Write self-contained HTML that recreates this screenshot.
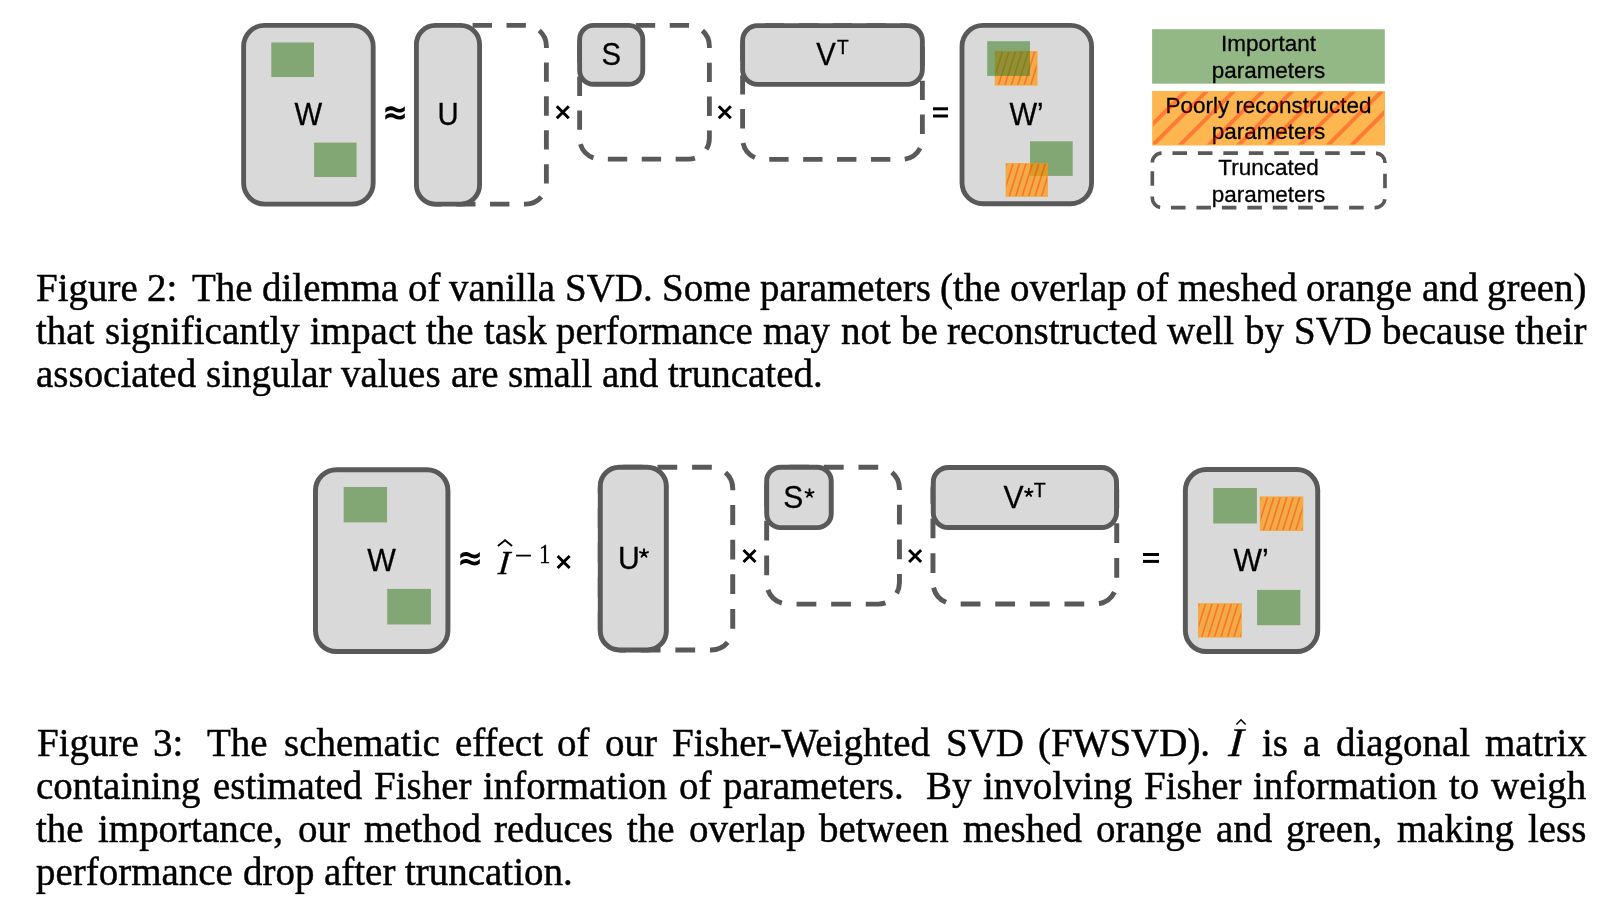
<!DOCTYPE html>
<html><head><meta charset="utf-8"><style>
html,body{margin:0;padding:0;background:#fff;}
body{width:1612px;height:912px;position:relative;overflow:hidden;}
svg{position:absolute;left:0;top:0;will-change:transform;}
.w{will-change:transform;transform:scaleY(1.04);transform-origin:0 13.15px;-webkit-text-stroke:0.45px #000;position:absolute;font-family:"Liberation Serif",serif;font-size:38.97px;line-height:0;white-space:pre;color:#000;height:0;}
.w i{font-style:italic;}
.hat{position:absolute;left:4px;top:-24.5px;}
</style></head><body>
<svg width="1612" height="912" viewBox="0 0 1612 912">
<defs><clipPath id="c1"><rect x="995.5999999999999" y="51.8" width="41.10" height="33.00"/></clipPath><clipPath id="c2"><rect x="1006.4" y="163.8" width="40.80" height="32.30"/></clipPath><clipPath id="c3"><rect x="1153.1" y="92.0" width="230.9" height="52.5"/></clipPath><clipPath id="c4"><rect x="1260.6" y="497.2" width="41.90" height="33.00"/></clipPath><clipPath id="c5"><rect x="1198.8" y="603.9" width="42.30" height="32.90"/></clipPath></defs>
<path d="M243.62,46.42 A21,21 0 0 1 264.62,25.42 L352.18,25.42 A21,21 0 0 1 373.18,46.42 L373.18,183.08 A21,21 0 0 1 352.18,204.08 L264.62,204.08 A21,21 0 0 1 243.62,183.08 Z" fill="#d9d9d9" stroke="#595959" stroke-width="4.84"/>
<rect x="271.3" y="42.5" width="42.70" height="34.50" fill="rgba(61,124,35,0.55)"/>
<rect x="314.1" y="142.6" width="42.50" height="34.40" fill="rgba(61,124,35,0.55)"/>
<text transform="translate(308.4,124.9) scale(0.959,1)" x="0" y="0" font-family="Liberation Sans" font-size="30.56" text-anchor="middle" stroke="#000" stroke-width="0.3" >W</text>
<g transform="translate(0,0)"><path d="M385.3,108.7 C386.8,107.0 388.8,106.3 390.8,106.3 C394.5,106.3 396,109.0 399.3,109.0 C401.5,109.0 403.5,107.6 404.8,106.2 L404.8,110.7 C403.3,111.9 401.5,112.6 399.5,112.6 C395.8,112.6 394,110.3 390.6,110.3 C388.6,110.3 386.8,111.4 385.3,112.8 Z" fill="#000"/><path d="M385.3,108.7 C386.8,107.0 388.8,106.3 390.8,106.3 C394.5,106.3 396,109.0 399.3,109.0 C401.5,109.0 403.5,107.6 404.8,106.2 L404.8,110.7 C403.3,111.9 401.5,112.6 399.5,112.6 C395.8,112.6 394,110.3 390.6,110.3 C388.6,110.3 386.8,111.4 385.3,112.8 Z" fill="#000" transform="translate(0,7.0)"/></g>
<path d="M416.42,46.12 A20.7,20.7 0 0 1 437.12,25.42 L525.68,25.42 A20.7,20.7 0 0 1 546.38,46.12 L546.38,183.38 A20.7,20.7 0 0 1 525.68,204.08 L437.12,204.08 A20.7,20.7 0 0 1 416.42,183.38 Z" fill="none" stroke="#595959" stroke-width="4.84" stroke-dasharray="19.37 14.53"/>
<path d="M416.42,44.42 A19,19 0 0 1 435.42,25.42 L460.58,25.42 A19,19 0 0 1 479.58,44.42 L479.58,185.08 A19,19 0 0 1 460.58,204.08 L435.42,204.08 A19,19 0 0 1 416.42,185.08 Z" fill="#d9d9d9" stroke="#595959" stroke-width="4.84"/>
<text transform="translate(448,124.6) scale(0.959,1)" x="0" y="0" font-family="Liberation Sans" font-size="30.56" text-anchor="middle" stroke="#000" stroke-width="0.3" >U</text>
<path d="M556.80,106.20L568.80,118.20M568.80,106.20L556.80,118.20" stroke="#000" stroke-width="3.0" fill="none"/>
<path d="M579.62,46.12 A20.7,20.7 0 0 1 600.32,25.42 L688.68,25.42 A20.7,20.7 0 0 1 709.38,46.12 L709.38,138.38 A20.7,20.7 0 0 1 688.68,159.08 L600.32,159.08 A20.7,20.7 0 0 1 579.62,138.38 Z" fill="none" stroke="#595959" stroke-width="4.84" stroke-dasharray="19.37 14.53"/>
<path d="M579.62,39.42 A14,14 0 0 1 593.62,25.42 L628.78,25.42 A14,14 0 0 1 642.78,39.42 L642.78,70.28 A14,14 0 0 1 628.78,84.28 L593.62,84.28 A14,14 0 0 1 579.62,70.28 Z" fill="#d9d9d9" stroke="#595959" stroke-width="4.84"/>
<text transform="translate(611.2,64.9) scale(0.959,1)" x="0" y="0" font-family="Liberation Sans" font-size="30.56" text-anchor="middle" stroke="#000" stroke-width="0.3" >S</text>
<path d="M718.80,106.30L730.80,118.30M730.80,106.30L718.80,118.30" stroke="#000" stroke-width="3.0" fill="none"/>
<path d="M742.62,46.32 A20.7,20.7 0 0 1 763.32,25.62 L901.68,25.62 A20.7,20.7 0 0 1 922.38,46.32 L922.38,138.68 A20.7,20.7 0 0 1 901.68,159.38 L763.32,159.38 A20.7,20.7 0 0 1 742.62,138.68 Z" fill="none" stroke="#595959" stroke-width="4.84" stroke-dasharray="19.37 14.53"/>
<path d="M742.62,40.62 A15,15 0 0 1 757.62,25.62 L907.38,25.62 A15,15 0 0 1 922.38,40.62 L922.38,69.38 A15,15 0 0 1 907.38,84.38 L757.62,84.38 A15,15 0 0 1 742.62,69.38 Z" fill="#d9d9d9" stroke="#595959" stroke-width="4.84"/>
<text transform="translate(816.3,65.3) scale(0.959,1)" x="0" y="0" font-family="Liberation Sans" font-size="30.56" text-anchor="start" stroke="#000" stroke-width="0.3" >V</text>
<text transform="translate(837.0,54.0) scale(0.959,1)" x="0" y="0" font-family="Liberation Sans" font-size="20.03" text-anchor="start" stroke="#000" stroke-width="0.3" >T</text>
<rect x="933" y="107.30" width="15" height="3.0" fill="#000"/>
<rect x="933" y="114.50" width="15" height="3.0" fill="#000"/>
<path d="M962.02,46.42 A21,21 0 0 1 983.02,25.42 L1070.58,25.42 A21,21 0 0 1 1091.58,46.42 L1091.58,182.78 A21,21 0 0 1 1070.58,203.78 L983.02,203.78 A21,21 0 0 1 962.02,182.78 Z" fill="#d9d9d9" stroke="#595959" stroke-width="4.84"/>
<rect x="994.8" y="51.0" width="42.70" height="34.60" fill="#fd9805" fill-opacity="0.7"/>
<g opacity="0.32"><path clip-path="url(#c1)" d="M985.40,85.60L996.21,51.00M991.85,85.60L1002.66,51.00M998.30,85.60L1009.11,51.00M1004.75,85.60L1015.56,51.00M1011.20,85.60L1022.01,51.00M1017.65,85.60L1028.46,51.00M1024.10,85.60L1034.91,51.00M1030.55,85.60L1041.36,51.00M1037.00,85.60L1047.81,51.00" stroke="#ff0000" stroke-width="1.6" fill="none"/></g>
<rect x="987.2" y="41.2" width="42.80" height="34.70" fill="rgba(61,124,35,0.55)"/>
<rect x="1030.0" y="141.3" width="42.70" height="34.60" fill="rgba(61,124,35,0.55)"/>
<rect x="1005.6" y="163.0" width="42.40" height="33.90" fill="#fd9805" fill-opacity="0.7"/>
<g opacity="0.32"><path clip-path="url(#c2)" d="M996.20,196.90L1006.79,163.00M1002.65,196.90L1013.24,163.00M1009.10,196.90L1019.69,163.00M1015.55,196.90L1026.14,163.00M1022.00,196.90L1032.59,163.00M1028.45,196.90L1039.04,163.00M1034.90,196.90L1045.49,163.00M1041.35,196.90L1051.94,163.00M1047.80,196.90L1058.39,163.00" stroke="#ff0000" stroke-width="1.6" fill="none"/></g>
<text transform="translate(1009.4,124.8) scale(0.959,1)" x="0" y="0" font-family="Liberation Sans" font-size="30.56" text-anchor="start" stroke="#000" stroke-width="0.3" >W’</text>
<rect x="1152.1" y="29.2" width="232.70" height="54.50" fill="rgba(61,124,35,0.55)"/>
<text transform="translate(1268.5,51.0) scale(0.985,1)" x="0" y="0" font-family="Liberation Sans" font-size="22.84" text-anchor="middle" stroke="#000" stroke-width="0.3" >Important</text>
<text transform="translate(1268.5,77.9) scale(0.985,1)" x="0" y="0" font-family="Liberation Sans" font-size="22.84" text-anchor="middle" stroke="#000" stroke-width="0.3" >parameters</text>
<rect x="1152.1" y="91.0" width="232.90" height="54.50" fill="#feb750"/>
<text transform="translate(1268.5,112.6) scale(0.985,1)" x="0" y="0" font-family="Liberation Sans" font-size="22.84" text-anchor="middle" stroke="#000" stroke-width="0.3" >Poorly reconstructed</text>
<text transform="translate(1268.5,139.3) scale(0.985,1)" x="0" y="0" font-family="Liberation Sans" font-size="22.84" text-anchor="middle" stroke="#000" stroke-width="0.3" >parameters</text>
<g opacity="0.32"><path clip-path="url(#c3)" d="M1126.8,150L1191.8,85M1147.9,150L1212.9,85M1175.0,150L1240.0,85M1204.0,150L1269.0,85M1233.5,150L1298.5,85M1263.2,150L1328.2,85M1294.9,150L1359.9,85M1323.1,150L1388.1,85M1346.8,150L1411.8,85" stroke="#ff0000" stroke-width="4.0" fill="none"/></g>
<path d="M1152.32,162.62 A9.5,9.5 0 0 1 1161.82,153.12 L1375.48,153.12 A9.5,9.5 0 0 1 1384.98,162.62 L1384.98,198.08 A9.5,9.5 0 0 1 1375.48,207.58 L1161.82,207.58 A9.5,9.5 0 0 1 1152.32,198.08 Z" fill="none" stroke="#595959" stroke-width="3.64" stroke-dasharray="14.55 10.9"/>
<text transform="translate(1268.5,174.7) scale(0.985,1)" x="0" y="0" font-family="Liberation Sans" font-size="22.84" text-anchor="middle" stroke="#000" stroke-width="0.3" >Truncated</text>
<text transform="translate(1268.5,201.75) scale(0.985,1)" x="0" y="0" font-family="Liberation Sans" font-size="22.84" text-anchor="middle" stroke="#000" stroke-width="0.3" >parameters</text>
<path d="M315.47,490.67 A21,21 0 0 1 336.47,469.67 L426.93,469.67 A21,21 0 0 1 447.93,490.67 L447.93,630.53 A21,21 0 0 1 426.93,651.53 L336.47,651.53 A21,21 0 0 1 315.47,630.53 Z" fill="#d9d9d9" stroke="#595959" stroke-width="4.94"/>
<rect x="343.7" y="487.0" width="43.40" height="35.40" fill="rgba(61,124,35,0.55)"/>
<rect x="387.2" y="588.9" width="43.70" height="35.60" fill="rgba(61,124,35,0.55)"/>
<text transform="translate(381.5,570.9) scale(0.959,1)" x="0" y="0" font-family="Liberation Sans" font-size="31.60" text-anchor="middle" stroke="#000" stroke-width="0.3" >W</text>
<g transform="translate(75.0,445.8)"><path d="M385.3,108.7 C386.8,107.0 388.8,106.3 390.8,106.3 C394.5,106.3 396,109.0 399.3,109.0 C401.5,109.0 403.5,107.6 404.8,106.2 L404.8,110.7 C403.3,111.9 401.5,112.6 399.5,112.6 C395.8,112.6 394,110.3 390.6,110.3 C388.6,110.3 386.8,111.4 385.3,112.8 Z" fill="#000"/><path d="M385.3,108.7 C386.8,107.0 388.8,106.3 390.8,106.3 C394.5,106.3 396,109.0 399.3,109.0 C401.5,109.0 403.5,107.6 404.8,106.2 L404.8,110.7 C403.3,111.9 401.5,112.6 399.5,112.6 C395.8,112.6 394,110.3 390.6,110.3 C388.6,110.3 386.8,111.4 385.3,112.8 Z" fill="#000" transform="translate(0,7.0)"/></g>
<text x="0" y="0" font-family="Liberation Serif" font-style="italic" font-size="33.5" stroke="#000" stroke-width="0.4" transform="translate(497.6,574.1) skewX(-5.5) scale(1.0,1.0)">I</text>
<path d="M497.9,546.0 L505.0,540.2 L512.1,546.0" stroke="#000" stroke-width="1.9" fill="none"/>
<rect x="516.1" y="554.7" width="14.8" height="1.8" fill="#000"/>
<text x="0" y="0" font-family="Liberation Serif" font-size="26.5" stroke="#000" stroke-width="0.3" transform="translate(539.0,562.9) scale(0.86,1)">1</text>
<path d="M557.60,556.00L569.60,568.00M569.60,556.00L557.60,568.00" stroke="#000" stroke-width="3.0" fill="none"/>
<path d="M600.27,488.57 A21.4,21.4 0 0 1 621.67,467.17 L711.33,467.17 A21.4,21.4 0 0 1 732.73,488.57 L732.73,628.53 A21.4,21.4 0 0 1 711.33,649.93 L621.67,649.93 A21.4,21.4 0 0 1 600.27,628.53 Z" fill="none" stroke="#595959" stroke-width="4.94" stroke-dasharray="19.77 14.83"/>
<path d="M600.27,486.17 A19,19 0 0 1 619.27,467.17 L647.33,467.17 A19,19 0 0 1 666.33,486.17 L666.33,630.93 A19,19 0 0 1 647.33,649.93 L619.27,649.93 A19,19 0 0 1 600.27,630.93 Z" fill="#d9d9d9" stroke="#595959" stroke-width="4.94"/>
<text transform="translate(618.0,568.9) scale(0.959,1)" x="0" y="0" font-family="Liberation Sans" font-size="31.50" text-anchor="start" stroke="#000" stroke-width="0.3" >U</text>
<path d="M644.00,553.40L644.00,549.20M644.00,553.40L647.99,552.10M644.00,553.40L646.47,556.80M644.00,553.40L641.53,556.80M644.00,553.40L640.01,552.10" stroke="#000" stroke-width="1.9" stroke-linecap="round" fill="none"/>
<path d="M743.50,550.00L755.50,562.00M755.50,550.00L743.50,562.00" stroke="#000" stroke-width="3.0" fill="none"/>
<path d="M766.67,488.57 A21.4,21.4 0 0 1 788.07,467.17 L878.03,467.17 A21.4,21.4 0 0 1 899.43,488.57 L899.43,582.73 A21.4,21.4 0 0 1 878.03,604.13 L788.07,604.13 A21.4,21.4 0 0 1 766.67,582.73 Z" fill="none" stroke="#595959" stroke-width="4.94" stroke-dasharray="19.77 14.83"/>
<path d="M766.67,481.17 A14,14 0 0 1 780.67,467.17 L817.23,467.17 A14,14 0 0 1 831.23,481.17 L831.23,513.63 A14,14 0 0 1 817.23,527.63 L780.67,527.63 A14,14 0 0 1 766.67,513.63 Z" fill="#d9d9d9" stroke="#595959" stroke-width="4.94"/>
<text transform="translate(783.2,508.0) scale(0.959,1)" x="0" y="0" font-family="Liberation Sans" font-size="31.29" text-anchor="start" stroke="#000" stroke-width="0.3" >S</text>
<path d="M809.50,493.40L809.50,489.20M809.50,493.40L813.49,492.10M809.50,493.40L811.97,496.80M809.50,493.40L807.03,496.80M809.50,493.40L805.51,492.10" stroke="#000" stroke-width="1.9" stroke-linecap="round" fill="none"/>
<path d="M909.10,550.00L921.10,562.00M921.10,550.00L909.10,562.00" stroke="#000" stroke-width="3.0" fill="none"/>
<path d="M932.97,488.87 A21.4,21.4 0 0 1 954.37,467.47 L1095.33,467.47 A21.4,21.4 0 0 1 1116.73,488.87 L1116.73,582.63 A21.4,21.4 0 0 1 1095.33,604.03 L954.37,604.03 A21.4,21.4 0 0 1 932.97,582.63 Z" fill="none" stroke="#595959" stroke-width="4.94" stroke-dasharray="19.77 14.83"/>
<path d="M933.27,482.47 A15,15 0 0 1 948.27,467.47 L1101.53,467.47 A15,15 0 0 1 1116.53,482.47 L1116.53,512.53 A15,15 0 0 1 1101.53,527.53 L948.27,527.53 A15,15 0 0 1 933.27,512.53 Z" fill="#d9d9d9" stroke="#595959" stroke-width="4.94"/>
<text transform="translate(1003.6,508.2) scale(0.959,1)" x="0" y="0" font-family="Liberation Sans" font-size="31.50" text-anchor="start" stroke="#000" stroke-width="0.3" >V</text>
<path d="M1028.80,492.70L1028.80,488.80M1028.80,492.70L1032.51,491.49M1028.80,492.70L1031.09,495.86M1028.80,492.70L1026.51,495.86M1028.80,492.70L1025.09,491.49" stroke="#000" stroke-width="1.9" stroke-linecap="round" fill="none"/>
<text transform="translate(1033.7,497.3) scale(0.959,1)" x="0" y="0" font-family="Liberation Sans" font-size="20.55" text-anchor="start" stroke="#000" stroke-width="0.3" >T</text>
<rect x="1143" y="553.00" width="16" height="3.0" fill="#000"/>
<rect x="1143" y="559.90" width="16" height="3.0" fill="#000"/>
<path d="M1185.37,490.57 A21,21 0 0 1 1206.37,469.57 L1296.73,469.57 A21,21 0 0 1 1317.73,490.57 L1317.73,630.53 A21,21 0 0 1 1296.73,651.53 L1206.37,651.53 A21,21 0 0 1 1185.37,630.53 Z" fill="#d9d9d9" stroke="#595959" stroke-width="4.94"/>
<rect x="1213.2" y="488.0" width="43.70" height="35.50" fill="rgba(61,124,35,0.55)"/>
<rect x="1259.8" y="496.4" width="43.50" height="34.60" fill="#fd9805" fill-opacity="0.7"/>
<g opacity="0.32"><path clip-path="url(#c4)" d="M1250.40,531.00L1261.21,496.40M1256.85,531.00L1267.66,496.40M1263.30,531.00L1274.11,496.40M1269.75,531.00L1280.56,496.40M1276.20,531.00L1287.01,496.40M1282.65,531.00L1293.46,496.40M1289.10,531.00L1299.91,496.40M1295.55,531.00L1306.36,496.40M1302.00,531.00L1312.81,496.40" stroke="#ff0000" stroke-width="1.6" fill="none"/></g>
<rect x="1257.1" y="589.9" width="43.20" height="35.30" fill="rgba(61,124,35,0.55)"/>
<rect x="1198.0" y="603.1" width="43.90" height="34.50" fill="#fd9805" fill-opacity="0.7"/>
<g opacity="0.32"><path clip-path="url(#c5)" d="M1188.60,637.60L1199.38,603.10M1195.05,637.60L1205.83,603.10M1201.50,637.60L1212.28,603.10M1207.95,637.60L1218.73,603.10M1214.40,637.60L1225.18,603.10M1220.85,637.60L1231.63,603.10M1227.30,637.60L1238.08,603.10M1233.75,637.60L1244.53,603.10M1240.20,637.60L1250.98,603.10" stroke="#ff0000" stroke-width="1.6" fill="none"/></g>
<text transform="translate(1233.6,570.9) scale(0.959,1)" x="0" y="0" font-family="Liberation Sans" font-size="31.50" text-anchor="start" stroke="#000" stroke-width="0.3" >W’</text>
<text x="0" y="0" font-family="Liberation Serif" font-style="italic" font-size="38.97" stroke="#000" stroke-width="0.45" transform="translate(1228.0,756.2) skewX(-4) scale(1.1,1.04)">I</text>
<path d="M1236.4,724.4 L1241,719.7 L1245.6,724.4" stroke="#000" stroke-width="1.5" fill="none"/>
</svg>
<span class="w" style="left:36.30px;top:287.85px">Figure</span>
<span class="w" style="left:147.34px;top:287.85px">2:</span>
<span class="w" style="left:192.18px;top:287.85px">The</span>
<span class="w" style="left:262.06px;top:287.85px">dilemma</span>
<span class="w" style="left:407.71px;top:287.85px">of</span>
<span class="w" style="left:449.47px;top:287.85px">vanilla</span>
<span class="w" style="left:564.81px;top:287.85px">SVD.</span>
<span class="w" style="left:661.80px;top:287.85px">Some</span>
<span class="w" style="left:759.85px;top:287.85px">parameters</span>
<span class="w" style="left:940.08px;top:287.85px">(the</span>
<span class="w" style="left:1009.96px;top:287.85px">overlap</span>
<span class="w" style="left:1136.11px;top:287.85px">of</span>
<span class="w" style="left:1177.87px;top:287.85px">meshed</span>
<span class="w" style="left:1306.21px;top:287.85px">orange</span>
<span class="w" style="left:1421.53px;top:287.85px">and</span>
<span class="w" style="left:1487.08px;top:287.85px">green)</span>
<span class="w" style="left:36.30px;top:330.95px">that</span>
<span class="w" style="left:104.83px;top:330.95px">significantly</span>
<span class="w" style="left:309.74px;top:330.95px">impact</span>
<span class="w" style="left:425.89px;top:330.95px">the</span>
<span class="w" style="left:483.60px;top:330.95px">task</span>
<span class="w" style="left:556.47px;top:330.95px">performance</span>
<span class="w" style="left:763.46px;top:330.95px">may</span>
<span class="w" style="left:840.65px;top:330.95px">not</span>
<span class="w" style="left:900.55px;top:330.95px">be</span>
<span class="w" style="left:947.43px;top:330.95px">reconstructed</span>
<span class="w" style="left:1167.43px;top:330.95px">well</span>
<span class="w" style="left:1244.62px;top:330.95px">by</span>
<span class="w" style="left:1293.69px;top:330.95px">SVD</span>
<span class="w" style="left:1381.75px;top:330.95px">because</span>
<span class="w" style="left:1515.18px;top:330.95px">their</span>
<span class="w" style="left:36.30px;top:374.05px">associated</span>
<span class="w" style="left:206.18px;top:374.05px">singular</span>
<span class="w" style="left:341.47px;top:374.05px">values</span>
<span class="w" style="left:450.78px;top:374.05px">are</span>
<span class="w" style="left:508.10px;top:374.05px">small</span>
<span class="w" style="left:602.28px;top:374.05px">and</span>
<span class="w" style="left:668.29px;top:374.05px">truncated.</span>
<span class="w" style="left:36.70px;top:742.85px">Figure</span>
<span class="w" style="left:152.50px;top:742.85px">3:</span>
<span class="w" style="left:207.46px;top:742.85px">The</span>
<span class="w" style="left:283.50px;top:742.85px">schematic</span>
<span class="w" style="left:454.96px;top:742.85px">effect</span>
<span class="w" style="left:556.98px;top:742.85px">of</span>
<span class="w" style="left:604.99px;top:742.85px">our</span>
<span class="w" style="left:672.39px;top:742.85px">Fisher-Weighted</span>
<span class="w" style="left:945.63px;top:742.85px">SVD</span>
<span class="w" style="left:1038.04px;top:742.85px">(FWSVD).</span>
<span class="w" style="left:1262.04px;top:742.85px">is</span>
<span class="w" style="left:1303.48px;top:742.85px">a</span>
<span class="w" style="left:1336.33px;top:742.85px">diagonal</span>
<span class="w" style="left:1485.27px;top:742.85px">matrix</span>
<span class="w" style="left:36.30px;top:785.75px">containing</span>
<span class="w" style="left:212.64px;top:785.75px">estimated</span>
<span class="w" style="left:373.82px;top:785.75px">Fisher</span>
<span class="w" style="left:483.08px;top:785.75px">information</span>
<span class="w" style="left:678.90px;top:785.75px">of</span>
<span class="w" style="left:723.20px;top:785.75px">parameters.</span>
<span class="w" style="left:925.59px;top:785.75px">By</span>
<span class="w" style="left:982.91px;top:785.75px">involving</span>
<span class="w" style="left:1144.14px;top:785.75px">Fisher</span>
<span class="w" style="left:1253.40px;top:785.75px">information</span>
<span class="w" style="left:1449.22px;top:785.75px">to</span>
<span class="w" style="left:1491.37px;top:785.75px">weigh</span>
<span class="w" style="left:36.30px;top:828.65px">the</span>
<span class="w" style="left:97.79px;top:828.65px">importance,</span>
<span class="w" style="left:297.74px;top:828.65px">our</span>
<span class="w" style="left:363.58px;top:828.65px">method</span>
<span class="w" style="left:494.35px;top:828.65px">reduces</span>
<span class="w" style="left:627.23px;top:828.65px">the</span>
<span class="w" style="left:688.73px;top:828.65px">overlap</span>
<span class="w" style="left:819.47px;top:828.65px">between</span>
<span class="w" style="left:963.18px;top:828.65px">meshed</span>
<span class="w" style="left:1096.11px;top:828.65px">orange</span>
<span class="w" style="left:1216.03px;top:828.65px">and</span>
<span class="w" style="left:1286.17px;top:828.65px">green,</span>
<span class="w" style="left:1397.37px;top:828.65px">making</span>
<span class="w" style="left:1528.15px;top:828.65px">less</span>
<span class="w" style="left:36.30px;top:871.55px">performance</span>
<span class="w" style="left:242.93px;top:871.55px">drop</span>
<span class="w" style="left:324.11px;top:871.55px">after</span>
<span class="w" style="left:405.23px;top:871.55px">truncation.</span>
</body></html>
